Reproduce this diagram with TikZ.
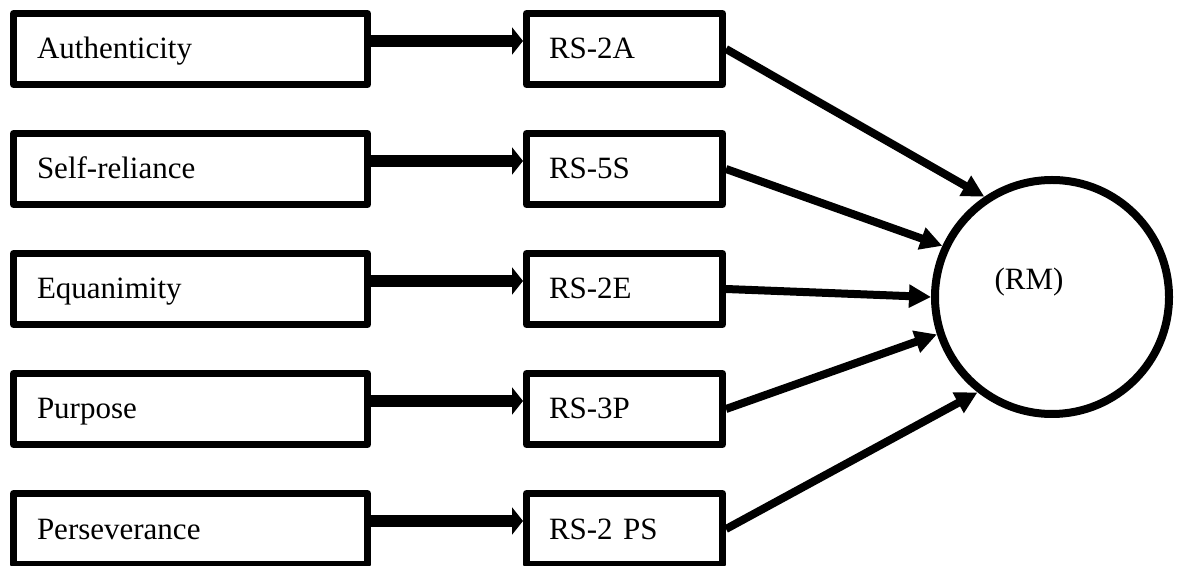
\documentclass[tikz,border=0pt]{standalone}
\usepackage{fontspec}
\setmainfont{Liberation Serif}
\usepackage{tikz}
\usetikzlibrary{arrows.meta,shapes}
\tikzstyle{factor}=[draw,line width=3.5pt,line join=round,minimum width=177pt,minimum height=35.5pt,text width=153.5pt,inner xsep=11.75pt,align=left,text height=13pt,text depth=3pt]
\tikzstyle{item}=[draw,line width=3.5pt,line join=round,minimum width=98pt,minimum height=35.5pt,text width=75.5pt,inner xsep=11.25pt,align=left,text height=13pt,text depth=3pt]
\tikzstyle{latent}=[circle,draw,line width=4pt,minimum size=117pt,inner sep=0pt]
\tikzstyle{feed} = [draw,line width=6pt,-{Triangle[length=5.5pt,width=13.5pt]}]
\tikzstyle{load} = [draw,line width=4pt,-{Triangle[length=11pt,width=11pt]}]

\begin{document}
\begin{tikzpicture}[x=0.5pt,y=-0.5pt,font=\fontsize{15.5}{18}\selectfont]
    \useasboundingbox (0,0) rectangle (1178,566);
    % First the five resilience factors and their items
    \foreach \pos/\name/\txt in {{(190.5,49)/auth/Authenticity}, {(190.5,169)/self/Self-reliance}, {(190.5,289)/equa/Equanimity}, {(190.5,409)/purp/Purpose}, {(190.5,529)/pers/Perseverance}}
        \node[factor] (\name) at \pos {\txt};
    \foreach \pos/\name/\txt in {{(624.5,49)/rs2a/RS-2A}, {(624.5,169)/rs5s/RS-5S}, {(624.5,289)/rs2e/RS-2E}, {(624.5,409)/rs3p/RS-3P}, {(624.5,529)/rs2ps/RS-2 PS}}
        \node[item] (\name) at \pos {\txt};

    % The latent variable
    \node[latent] (rm) at (1052,297) {};
    \node (rmlabel) at (1029,282) {(RM)};

    % Connect factors with items, items with the circle
    \foreach \source/ \dest in {auth/rs2a, self/rs5s, equa/rs2e, purp/rs3p, pers/rs2ps}
        \path[feed] ([yshift=4pt]\source.east) -- ([yshift=4pt]\dest.west);
    \foreach \source/ \ang in {rs2a/124, rs5s/155, rs2e/180, rs3p/198, rs2ps/232}
        \path[load] (\source.east) -- (rm.\ang);

\end{tikzpicture}
\end{document}
